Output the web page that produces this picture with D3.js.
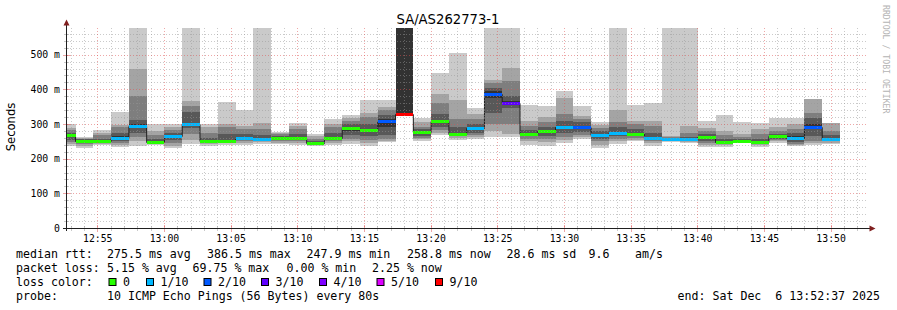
<!DOCTYPE html>
<html><head><meta charset="utf-8">
<script src="https://cdn.jsdelivr.net/npm/d3@7/dist/d3.min.js"></script>
<style>body{margin:0;background:#fff;} svg{display:block}</style>
</head><body>
<svg id="c" width="897" height="310"></svg>
<script>
// ---------------- data ----------------
const title = "SA/AS262773-1";
const startTime = "12:52:37";
const endTime = "13:52:37";
// end time of each 80 s step (first step starts at startTime)
const colEnd = ["12:53:20","12:54:40","12:56:00","12:57:20","12:58:40","13:00:00","13:01:20","13:02:40",
  "13:04:00","13:05:20","13:06:40","13:08:00","13:09:20","13:10:40","13:12:00","13:13:20","13:14:40",
  "13:16:00","13:17:20","13:18:40","13:20:00","13:21:20","13:22:40","13:24:00","13:25:20","13:26:40",
  "13:28:00","13:29:20","13:30:40","13:32:00","13:33:20","13:34:40","13:36:00","13:37:20","13:38:40",
  "13:40:00","13:41:20","13:42:40","13:44:00","13:45:20","13:46:40","13:48:00","13:49:20","13:50:40"];
// sorted ping RTTs (ms) per step
const pings = [
  [238,243,248,255,262,268,275,282,288,301],
  [232,238,243,246,249,253,256,258,260,262],
  [240,243,245,248,250,252,258,268,275,282],
  [235,240,246,252,258,264,275,290,298,334],
  [237,250,262,275,292,300,312,382,460,600],
  [240,243,246,248,249,251,258,268,280,301],
  [232,238,245,255,260,268,275,283,290,300],
  [243,255,270,288,296,302,336,353,367,600],
  [238,243,247,249,250,252,260,275,290,300],
  [240,245,248,250,252,255,270,290,301,363],
  [240,246,252,256,259,262,270,285,293,341],
  [243,248,252,255,257,260,268,285,303,600],
  [242,246,250,254,258,262,266,270,273,277],
  [240,245,250,255,258,262,270,285,295,304],
  [236,239,242,244,246,248,252,258,265,272],
  [240,245,250,254,258,262,275,290,300,314],
  [243,250,258,268,280,292,300,310,318,327],
  [237,245,255,265,278,285,300,320,332,370],
  [248,252,258,268,290,315,325,340,350,368],
  [329,329,329,329,329,600,600,600,600,600],
  [252,256,260,265,272,278,285,292,305,318],
  [268,275,282,292,302,312,330,360,388,446],
  [255,260,264,268,270,272,290,315,368,505],
  [256,262,268,275,283,292,300,315,330,346],
  [262,281,300,333,375,395,405,417,428,600],
  [262,270,300,345,358,365,380,423,462,600],
  [240,250,258,265,270,274,282,295,310,356],
  [238,248,256,265,274,282,292,305,320,352],
  [245,253,262,275,286,294,310,330,375,395],
  [258,262,268,278,286,294,305,315,322,353],
  [232,240,250,258,264,272,280,288,296,305],
  [242,250,258,264,270,276,290,305,341,600],
  [250,255,260,264,268,272,285,300,308,354],
  [238,245,250,255,258,263,275,295,308,362],
  [248,252,254,256,257,259,261,263,266,600],
  [245,249,252,254,256,258,262,275,293,600],
  [234,240,244,250,258,264,272,280,289,308],
  [234,240,244,246,248,252,258,268,281,325],
  [244,246,248,249,250,252,256,263,270,307],
  [235,240,244,246,248,250,256,270,287,302],
  [245,250,254,258,262,266,272,280,290,316],
  [236,240,243,248,256,266,275,286,300,318],
  [240,245,252,265,285,300,318,332,373,373],
  [242,246,250,254,257,260,268,280,303,303]
];
const medians = [268,251,251,261,294,249,265,299,251,252,260,257,260,259,246,260,288,282,308,329,
  276,308,271,288,386,361,271,279,290,291,268,273,270,260,257,256,262,249,251,248,264,261,292,258];
const lossTenths = [0,0,0,1,1,0,1,1,0,0,1,1,0,0,0,0,0,0,2,9,0,0,0,1,2,3,0,0,1,2,1,1,0,1,1,1,0,0,0,0,0,1,2,1];

const yTicks = [0,100,200,300,400,500];
const yTickLabels = ["0","100 m","200 m","300 m","400 m","500 m"];
const xTickLabels = ["12:55","13:00","13:05","13:10","13:15","13:20","13:25","13:30","13:35","13:40","13:45","13:50"];
const lossLevels = [0,1,2,3,4,5,9];
const lossLabels = ["0","1/10","2/10","3/10","4/10","5/10","9/10"];
const lossColors = ["#26ff00","#00b8ff","#0059ff","#5e00ff","#7e00ff","#dd00ff","#ff0000"];
const smokeShades = ["#cacaca","#a4a4a4","#7e7e7e","#585858","#323232"];
const legendLines = [
  [["median rtt:",16],["275.5 ms avg",107],["386.5 ms max",207],["247.9 ms min",306.5],["258.8 ms now",407],["28.6 ms sd",506.5],["9.6",588.5],["am/s",635]],
  [["packet loss:",16],["5.15 % avg",107],["69.75 % max",192.5],["0.00 % min",286.5],["2.25 % now",372]],
  [["probe:",16],["10 ICMP Echo Pings (56 Bytes) every 80s",107]]
];
const endLabel = "end: Sat Dec  6 13:52:37 2025";

// ---------------- chart ----------------
const svg = d3.select("#c");
const T = s => { const p = s.split(":").map(Number); return new Date(2025,11,6,p[0],p[1],p[2]||0); };
const x = d3.scaleTime().domain([T(startTime), T(endTime)]).range([66, 866]);
const y = d3.scaleLinear().domain([0, 577]).range([228, 28]);
const px = v => Math.floor(v) + 0.5;
const py = v => Math.round(v) + 0.5;

svg.append("rect").attr("width",897).attr("height",310).attr("fill","#fff");

svg.append("clipPath").attr("id","plot").append("rect")
  .attr("x",66).attr("y",28).attr("width",801).attr("height",200);

const g = svg.append("g").attr("clip-path","url(#plot)");

const starts = colEnd.map((e,i) => i === 0 ? T(startTime) : T(colEnd[i-1]));
const ends = colEnd.map(T);

// smoke
for (let b = 0; b < 5; b++) {
  g.append("g").selectAll("rect").data(pings).join("rect")
    .attr("shape-rendering","crispEdges")
    .attr("x",(d,i)=>x(starts[i]))
    .attr("width",(d,i)=>x(ends[i])-x(starts[i]))
    .attr("y",d=>y(d[9-b]))
    .attr("height",d=>Math.max(0,y(d[b])-y(d[9-b])))
    .attr("fill",smokeShades[b]);
}

// median black step line
const stepPts = medians.map((m,i)=>[starts[i], m]).concat([[ends[ends.length-1], medians[medians.length-1]]]);
g.append("path")
  .attr("d", d3.line().x(d=>x(d[0])).y(d=>py(y(d[1]))).curve(d3.curveStepAfter)(stepPts))
  .attr("fill","none").attr("stroke","#202020").attr("stroke-width",1);

// loss-coloured median bars
g.append("g").selectAll("rect").data(medians).join("rect")
  .attr("shape-rendering","crispEdges")
  .attr("x",(d,i)=>x(starts[i]))
  .attr("width",(d,i)=>x(ends[i])-x(starts[i]))
  .attr("y",d=>Math.round(y(d))-1)
  .attr("height",3)
  .attr("fill",(d,i)=>lossColors[lossLevels.indexOf(lossTenths[i])]);

// grid (drawn on top, semi-transparent, as rrdtool does)
const gridCol = "rgba(150,150,150,0.5)", mgridCol = "rgba(222,79,79,0.5)";
const minorY = d3.range(20, 580, 20).filter(v => v % 100 !== 0);
const majorX = xTickLabels.map(T);
const minorX = d3.timeMinute.every(1).range(T(startTime), T(endTime)).filter(d => d.getMinutes() % 5 !== 0);
const gridG = svg.append("g").attr("shape-rendering","crispEdges");
gridG.selectAll("line.hy").data(minorY).join("line").attr("class","hy")
  .attr("x1",67).attr("x2",867).attr("y1",d=>py(y(d))).attr("y2",d=>py(y(d)))
  .attr("stroke",gridCol).attr("stroke-dasharray","1,2");
gridG.selectAll("line.vx").data(minorX).join("line").attr("class","vx")
  .attr("x1",d=>px(x(d))).attr("x2",d=>px(x(d))).attr("y1",28).attr("y2",228)
  .attr("stroke",gridCol).attr("stroke-dasharray","1,2");
gridG.selectAll("line.my").data(yTicks.slice(1)).join("line").attr("class","my")
  .attr("x1",67).attr("x2",867).attr("y1",d=>py(y(d))).attr("y2",d=>py(y(d)))
  .attr("stroke",mgridCol).attr("stroke-dasharray","1,2");
gridG.selectAll("line.mx").data(majorX).join("line").attr("class","mx")
  .attr("x1",d=>px(x(d))).attr("x2",d=>px(x(d))).attr("y1",28).attr("y2",228)
  .attr("stroke",mgridCol).attr("stroke-dasharray","1,2");

// ticks on the axes
const tk = svg.append("g").attr("shape-rendering","crispEdges");
tk.selectAll("line.ty").data(minorY).join("line").attr("class","ty")
  .attr("x1",64).attr("x2",69).attr("y1",d=>py(y(d))).attr("y2",d=>py(y(d))).attr("stroke",gridCol);
tk.selectAll("line.tmy").data(yTicks.slice(1)).join("line").attr("class","tmy")
  .attr("x1",63).attr("x2",70).attr("y1",d=>py(y(d))).attr("y2",d=>py(y(d))).attr("stroke",mgridCol);
tk.selectAll("line.tx").data(minorX).join("line").attr("class","tx")
  .attr("x1",d=>px(x(d))).attr("x2",d=>px(x(d))).attr("y1",226).attr("y2",231).attr("stroke",gridCol);
tk.selectAll("line.tmx").data(majorX).join("line").attr("class","tmx")
  .attr("x1",d=>px(x(d))).attr("x2",d=>px(x(d))).attr("y1",225).attr("y2",232).attr("stroke",mgridCol);

// axes
const axisCol = "#1f1f1f", arrowCol = "#801f1f";
svg.append("line").attr("x1",66.5).attr("x2",66.5).attr("y1",231).attr("y2",24).attr("stroke",axisCol);
svg.append("line").attr("x1",63).attr("x2",870).attr("y1",228.5).attr("y2",228.5).attr("stroke",axisCol);
svg.append("path").attr("d","M63.5,25.5 L66.5,19.5 L69.5,25.5 Z").attr("fill",arrowCol);
svg.append("path").attr("d","M869.5,225.5 L875.5,228.5 L869.5,231.5 Z").attr("fill",arrowCol);

// tick labels
const mono = "'DejaVu Sans Mono', monospace";
svg.selectAll("text.yl").data(yTicks).join("text").attr("class","yl")
  .attr("x",60).attr("y",d=>y(d)+3.5).attr("text-anchor","end")
  .attr("font-family",mono).attr("font-size",9.8).attr("fill","#000")
  .text((d,i)=>yTickLabels[i]);
svg.selectAll("text.xl").data(majorX).join("text").attr("class","xl")
  .attr("x",d=>x(d)).attr("y",242).attr("text-anchor","middle")
  .attr("font-family",mono).attr("font-size",9.8).attr("fill","#000")
  .text((d,i)=>xTickLabels[i]);

// title and unit
svg.append("text").attr("x",448).attr("y",24).attr("text-anchor","middle")
  .attr("font-family","'DejaVu Sans', sans-serif").attr("font-size",13.2).text(title);
svg.append("text").attr("transform","translate(15,127) rotate(-90)").attr("text-anchor","middle")
  .attr("font-family","'DejaVu Sans', sans-serif").attr("font-size",11.6).text("Seconds");
svg.append("text").attr("transform","translate(883,5) rotate(90)").attr("text-anchor","start")
  .attr("font-family",mono).attr("font-size",8.2).attr("fill","#b4b4b4").text("RRDTOOL / TOBI OETIKER");

// legend
const legY = [257.5, 271.5, 285.5, 299.5];
const leg = svg.append("g").attr("font-family",mono).attr("font-size",11.6).attr("fill","#000");
[legendLines[0], legendLines[1]].forEach((line, li) => {
  line.forEach(([t, xx]) => leg.append("text").attr("x",xx).attr("y",legY[li]).attr("xml:space","preserve").text(t));
});
leg.append("text").attr("x",16).attr("y",legY[2]).text("loss color:");
const boxX = [108.5,146,203.5,261,319,376.5,435];
lossLabels.forEach((l,i)=>{
  leg.append("rect").attr("x",boxX[i]+0.5).attr("y",278.5).attr("width",7).attr("height",7)
    .attr("fill",lossColors[i]).attr("stroke","#000").attr("stroke-width",1);
  leg.append("text").attr("x",boxX[i]+14.5).attr("y",legY[2]).text(l);
});
legendLines[2].forEach(([t,xx]) => leg.append("text").attr("x",xx).attr("y",legY[3]).attr("xml:space","preserve").text(t));
leg.append("text").attr("x",880).attr("y",legY[3]).attr("text-anchor","end").attr("xml:space","preserve").text(endLabel);
</script>
</body></html>
